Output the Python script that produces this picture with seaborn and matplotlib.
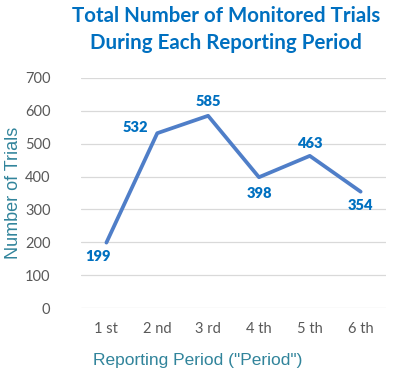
import numpy as np
import pandas as pd
import matplotlib
matplotlib.use('Agg')
import matplotlib.pyplot as plt
import seaborn as sns

periods = ['1 st', '2 nd', '3 rd', '4 th', '5 th', '6 th']
trials = [199, 532, 585, 398, 463, 354]
# label offsets in points (dx, dy) relative to each point
label_offsets = [(-6, -10), (-16, 4), (0, 10), (0, -12), (0, 9), (0, -10)]

sns.set_style('white')
plt.rcParams['font.family'] = ['Lato', 'DejaVu Sans']

df = pd.DataFrame({'Period': periods, 'Trials': trials})

fig = plt.figure(figsize=(3.98, 3.81), dpi=100)
ax = fig.add_axes([0.2035, 0.1916, 0.7665, 0.6037])

sns.lineplot(data=df, x='Period', y='Trials', ax=ax, color='#4F7EC8',
             linewidth=2.7, sort=False)

ax.set_ylim(0, 700)
ax.set_xlim(-0.5, 5.5)
ax.set_yticks(np.arange(0, 701, 100))
ax.yaxis.grid(True, color='#d9d9d9', linewidth=0.9)
ax.xaxis.grid(False)
for s in ax.spines.values():
    s.set_visible(False)
ax.tick_params(axis='both', length=0, labelsize=10.5, labelcolor='#595959', pad=6)
ax.tick_params(axis='y', pad=22)
ax.tick_params(axis='x', pad=10)

for i, (v, off) in enumerate(zip(trials, label_offsets)):
    ax.annotate(str(v), (i, v), xytext=off, textcoords='offset points',
                ha='center', va='center', fontsize=10.5, fontweight='heavy',
                color='#0070C0')

ax.set_xlabel('')
ax.set_ylabel('Number of Trials', fontsize=13, color='#31849B',
              family=['Liberation Sans', 'DejaVu Sans'])
ax.yaxis.set_label_coords(-0.195, 0.5)

fig.text(0.568, 0.922, 'Total Number of Monitored Trials\nDuring Each Reporting Period',
         ha='center', va='center', fontsize=14.8, fontweight='bold',
         color='#0070C0', linespacing=1.45)
fig.text(0.497, 0.055, 'Reporting Period ("Period")', ha='center', va='center',
         fontsize=12.5, color='#31849B', family=['Liberation Sans', 'DejaVu Sans'])

fig.savefig('out.png', dpi=100)
